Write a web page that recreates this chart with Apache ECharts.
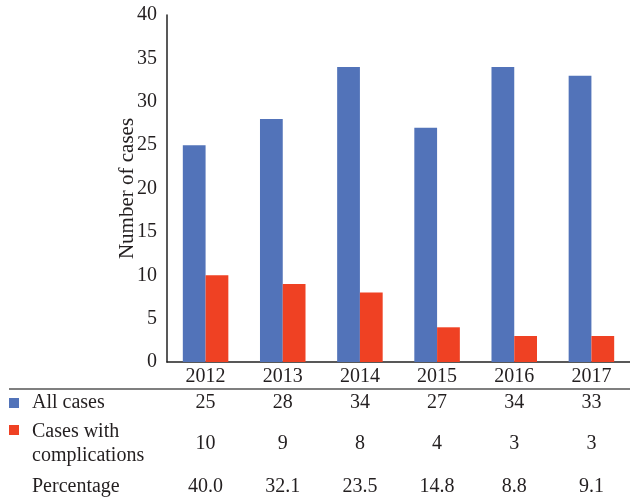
<!DOCTYPE html>
<html>
<head>
<meta charset="utf-8">
<script src="https://cdn.jsdelivr.net/npm/echarts@6/dist/echarts.min.js"></script>
<style>
  html, body { margin: 0; padding: 0; background: #fff; }
  #chart { width: 630px; height: 500px; }
</style>
</head>
<body>
<div id="chart"></div>
<script>
const years = ['2012', '2013', '2014', '2015', '2016', '2017']
const allCases = [25, 28, 34, 27, 34, 33]
const complicationCases = [10, 9, 8, 4, 3, 3]
const percentage = ['40.0', '32.1', '23.5', '14.8', '8.8', '9.1']
const rowLabels = ['All cases', 'Cases with\ncomplications', 'Percentage']

const BLUE = '#5273B9'
const RED = '#EF4123'
const TEXT = '#231F20'
const FONT = '"Liberation Serif", "DejaVu Serif", serif'
const FS = 20

const chart = echarts.init(document.getElementById('chart'))

// table rows are drawn as extra category axes so cells line up with the bars
function tableAxis(values, offset) {
  return {
    type: 'category',
    data: values.map(String),
    position: 'bottom',
    offset: offset,
    axisLine: { show: false },
    axisTick: { show: false },
    axisLabel: { margin: 5, fontSize: FS, color: TEXT, fontFamily: FONT }
  }
}

chart.setOption({
  animation: false,
  grid: { left: 167, top: 15, width: 469, height: 347 },
  xAxis: [
    {
      type: 'category',
      data: years,
      axisLine: { lineStyle: { color: '#222', width: 1.5 } },
      axisTick: { show: false },
      axisLabel: { margin: 5, fontSize: FS, color: TEXT, fontFamily: FONT }
    },
    tableAxis(allCases, 26),
    tableAxis(complicationCases, 67),
    tableAxis(percentage, 110)
  ],
  yAxis: {
    type: 'value',
    min: 0,
    max: 40,
    interval: 5,
    name: 'Number of cases',
    nameLocation: 'middle',
    nameGap: 29,
    nameMoveOverlap: false,
    nameTextStyle: { fontSize: 21, color: TEXT, fontFamily: FONT },
    axisLine: { show: true, lineStyle: { color: '#222', width: 1.5 } },
    axisTick: { show: false },
    splitLine: { show: false },
    axisLabel: { margin: 10, fontSize: FS, color: TEXT, fontFamily: FONT }
  },
  series: [
    {
      name: rowLabels[0],
      type: 'bar',
      data: allCases,
      itemStyle: { color: BLUE },
      barGap: '0%',
      barCategoryGap: '41%'
    },
    {
      name: rowLabels[1],
      type: 'bar',
      data: complicationCases,
      itemStyle: { color: RED },
      barGap: '0%',
      barCategoryGap: '41%'
    }
  ],
  graphic: [
    { type: 'line', shape: { x1: 9, y1: 389, x2: 630, y2: 389 }, style: { stroke: '#555', lineWidth: 1.5 } },
    { type: 'rect', shape: { x: 9, y: 398, width: 10, height: 10 }, style: { fill: BLUE } },
    { type: 'rect', shape: { x: 9, y: 425, width: 10, height: 10 }, style: { fill: RED } },
    { type: 'text', x: 32, y: 403, style: { text: rowLabels[0], font: FS + 'px ' + FONT, fill: TEXT, verticalAlign: 'middle' } },
    { type: 'text', x: 32, y: 444, style: { text: rowLabels[1], font: FS + 'px ' + FONT, fill: TEXT, verticalAlign: 'middle', lineHeight: 24 } },
    { type: 'text', x: 32, y: 487, style: { text: rowLabels[2], font: FS + 'px ' + FONT, fill: TEXT, verticalAlign: 'middle' } }
  ]
})
</script>
</body>
</html>
